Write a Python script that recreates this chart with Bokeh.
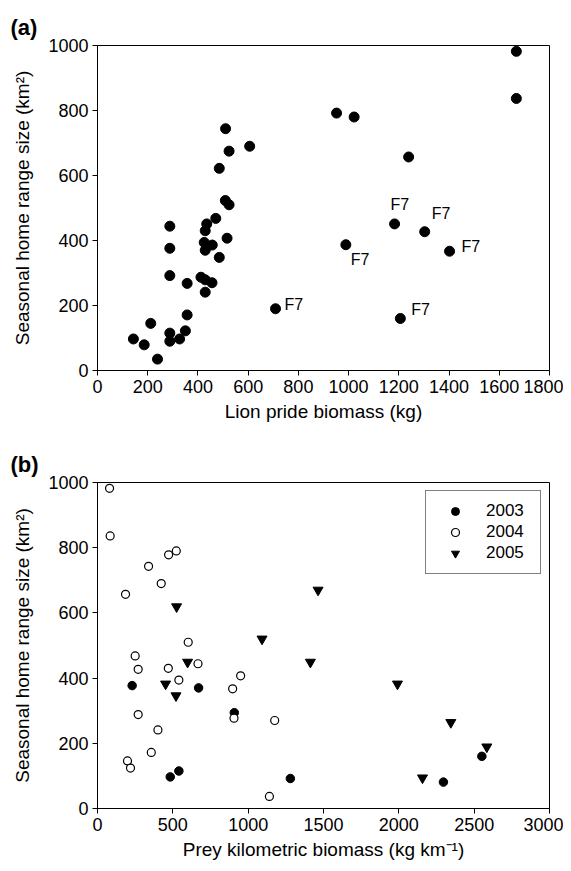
from bokeh.plotting import figure
from bokeh.models import (FixedTicker, Range1d, Legend, LegendItem, Title,
                          ColumnDataSource)
from bokeh.layouts import column
from bokeh.embed import file_html
from bokeh.resources import INLINE
from bokeh.core.properties import value

# ---------------- data: panel (a) ----------------
pride_biomass = [952, 510, 606, 524, 485, 509, 524, 471, 435, 288, 429, 516, 425, 457,
                 429, 288, 485, 288, 412, 429, 456, 357, 429, 709, 357, 212, 350, 143,
                 288, 327, 288, 186, 239, 1668, 1668, 1022, 1239, 1183, 1303, 989, 1402, 1206]
pride_range = [792, 744, 690, 675, 622, 523, 510, 468, 451, 444, 430, 407, 394, 386,
               370, 376, 348, 292, 287, 279, 270, 268, 241, 190, 171, 145, 122, 97,
               115, 97, 90, 79, 35, 982, 837, 780, 657, 451, 427, 387, 367, 160]
pride_label = [""] * 23 + ["F7"] + [""] * 13 + ["F7", "F7", "F7", "F7", "F7"]

# ---------------- data: panel (b) ----------------
years = ["2003", "2004", "2005"]
prey_2003 = [230, 671, 908, 483, 540, 1280, 2296, 2551]
range_2003 = [377, 370, 294, 97, 115, 92, 81, 160]
prey_2004 = [80, 84, 523, 472, 339, 423, 186, 602, 250, 667, 270, 470, 540, 950, 897,
             906, 270, 1176, 401, 357, 199, 219, 1141]
range_2004 = [982, 836, 790, 778, 743, 690, 657, 510, 468, 444, 427, 430, 394, 407, 367,
              277, 288, 270, 241, 172, 146, 124, 37]
prey_2005 = [525, 1464, 1092, 598, 1413, 452, 521, 1991, 2345, 2584, 2157]
range_2005 = [619, 670, 520, 449, 449, 382, 346, 382, 264, 189, 94]

x_ticks_a = [0, 200, 400, 600, 800, 1000, 1200, 1400, 1600, 1800]
x_ticks_b = [0, 500, 1000, 1500, 2000, 2500, 3000]
y_ticks = [0, 200, 400, 600, 800, 1000]

FONT = "Liberation Sans"
TICK_FS = "18px"
LABEL_FS = "19px"
Y_LABEL = "Seasonal home range size (km\u00b2)"


def style(p):
    p.outline_line_color = "black"
    p.outline_line_width = 1
    p.xgrid.grid_line_color = None
    p.ygrid.grid_line_color = None
    p.background_fill_color = "white"
    p.border_fill_color = "white"
    for ax in (p.xaxis[0], p.yaxis[0]):
        ax.axis_line_color = "black"
        ax.major_tick_line_color = "black"
        ax.major_tick_out = 5
        ax.major_tick_in = 0
        ax.minor_tick_line_color = None
        ax.major_label_text_font = FONT
        ax.major_label_text_font_size = TICK_FS
        ax.major_label_text_color = "black"
        ax.axis_label_text_font = FONT
        ax.axis_label_text_font_size = LABEL_FS
        ax.axis_label_text_font_style = "normal"
        ax.axis_label_text_color = "black"
        ax.major_label_standoff = 4
    p.yaxis[0].ticker = FixedTicker(ticks=y_ticks)
    p.yaxis[0].axis_label_standoff = 12
    p.xaxis[0].axis_label_standoff = 5


def panel_title(p, text):
    p.add_layout(Title(text=text, align="left", offset=-87, standoff=12,
                       text_font=FONT, text_font_size="22px",
                       text_font_style="bold", text_color="black"), "above")


# ---------------- figure (a) ----------------
pa = figure(width=563, height=426, output_backend="svg", toolbar_location=None,
            x_range=Range1d(0, 1800), y_range=Range1d(0, 1000),
            min_border_left=97, min_border_right=13, min_border_top=45,
            min_border_bottom=56)
style(pa)
panel_title(pa, "(a)")
pa.xaxis[0].ticker = FixedTicker(ticks=x_ticks_a)
pa.xaxis[0].axis_label = "Lion pride biomass (kg)"
pa.yaxis[0].axis_label = Y_LABEL

pa.scatter(pride_biomass, pride_range, marker="circle", size=10,
           fill_color="black", line_color="black")

f7_idx = [i for i, s in enumerate(pride_label) if s]
f7_dx = [9, -4, 7, 5, 12, 11]
f7_dy = [-4, -19, -18, 15, -5, -9]
src = ColumnDataSource(dict(
    x=[pride_biomass[i] for i in f7_idx],
    y=[pride_range[i] for i in f7_idx],
    t=[pride_label[i] for i in f7_idx],
    dx=f7_dx, dy=f7_dy))
pa.text("x", "y", text="t", source=src, x_offset="dx", y_offset="dy",
        text_font=value(FONT), text_font_size="16px", text_color="black",
        text_align="left", text_baseline="middle")

# ---------------- figure (b) ----------------
pb = figure(width=563, height=437, output_backend="svg", toolbar_location=None,
            x_range=Range1d(0, 3000), y_range=Range1d(0, 1000),
            min_border_left=97, min_border_right=14, min_border_top=56,
            min_border_bottom=55)
style(pb)
panel_title(pb, "(b)")
pb.xaxis[0].ticker = FixedTicker(ticks=x_ticks_b)
pb.xaxis[0].axis_label = "Prey kilometric biomass (kg km\u207b\u00b9)"
pb.yaxis[0].axis_label = Y_LABEL

r03 = pb.scatter(prey_2003, range_2003, marker="circle", size=8.5,
                 fill_color="black", line_color="black")
r04 = pb.scatter(prey_2004, range_2004, marker="circle", size=8,
                 fill_color="white", line_color="black", line_width=1.2)
r05 = pb.scatter(prey_2005, range_2005, marker="inverted_triangle", size=10,
                 fill_color="black", line_color="black")

legend = Legend(items=[LegendItem(label=years[0], renderers=[r03]),
                       LegendItem(label=years[1], renderers=[r04]),
                       LegendItem(label=years[2], renderers=[r05])],
                location="top_right", margin=8, padding=10, spacing=1,
                glyph_width=38, glyph_height=20, label_height=20, label_width=44,
                label_standoff=12, border_line_color="black", border_line_width=1,
                background_fill_color="white", background_fill_alpha=1,
                label_text_font=FONT, label_text_font_size="17px",
                label_text_color="black")
pb.add_layout(legend, "center")

layout = column(pa, pb, spacing=0)
open("out.html", "w").write(file_html(layout, INLINE))
